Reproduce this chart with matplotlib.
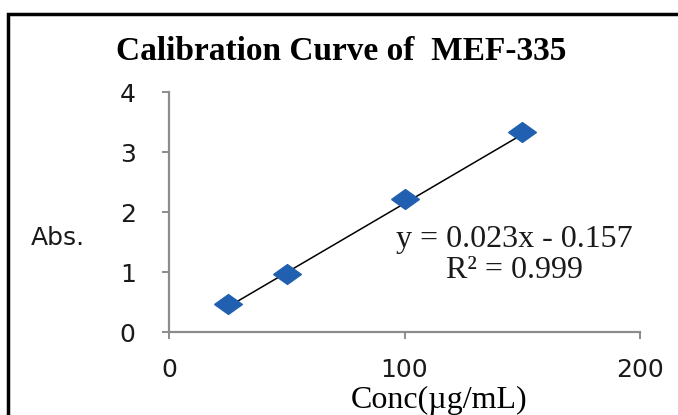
import matplotlib.pyplot as plt
from matplotlib.patches import Rectangle
import numpy as np

# data
conc = [25, 50, 100, 150]
absorb = [0.46, 0.97, 2.21, 3.33]
slope = 0.023
intercept = -0.157
x_ticks = [0, 100, 200]
y_ticks = [0, 1, 2, 3, 4]

W, H = 678, 415

def fx(px):
    return px / W

def fy(py):
    return 1 - py / H

fig = plt.figure(figsize=(6.78, 4.15), dpi=100)
ax = fig.add_axes([fx(169), fy(332), (640-169)/W, (332-92)/H])

# trendline over data range
xs = np.array([conc[0], conc[-1]])
ax.plot(xs, slope*xs + intercept, color='black', lw=1.1, zorder=2)
# slightly flattened diamond like the original
diamond = [(-1.4, 0), (0, 1), (1.4, 0), (0, -1), (-1.4, 0)]
ax.plot(conc, absorb, ls='none', marker=diamond, color='#2160b0',
        ms=20, mec='#2160b0', zorder=3)

ax.set_xlim(0, 200)
ax.set_ylim(0, 4)
ax.set_xticks(x_ticks)
ax.set_yticks(y_ticks)
for s in ['top', 'right']:
    ax.spines[s].set_visible(False)
for s in ['left', 'bottom']:
    ax.spines[s].set_color('#8c8c8c')
    ax.spines[s].set_linewidth(1.6)
ax.tick_params(axis='both', color='#8c8c8c', width=1.4, length=5,
               labelsize=18, labelcolor='#1a1a1a')
ax.tick_params(axis='x', pad=14)
ax.tick_params(axis='y', pad=19)
for lab in ax.get_xticklabels() + ax.get_yticklabels():
    lab.set_family('DejaVu Sans')

fig.text(fx(341), fy(60), 'Calibration Curve of  MEF-335',
         ha='center', va='baseline', family='Liberation Serif',
         fontweight='bold', fontsize=24)
fig.text(fx(58), fy(245), 'Abs.', ha='center', va='baseline',
         family='DejaVu Sans', fontsize=18, color='#1a1a1a')
fig.text(fx(439), fy(408), 'Conc(\u00b5g/mL)', ha='center', va='baseline',
         family='Liberation Serif', fontsize=23)
fig.text(fx(514), fy(247), 'y = 0.023x - 0.157', ha='center',
         va='baseline', family='Liberation Serif', fontsize=23,
         color='#1a1a1a')
fig.text(fx(515), fy(278), 'R\u00b2 = 0.999', ha='center',
         va='baseline', family='Liberation Serif', fontsize=23,
         color='#1a1a1a')

# outer frame, cut by the image edges at right and bottom
fig.patches.append(Rectangle((fx(8), -0.1), 1.2, fy(14) + 0.1,
                             transform=fig.transFigure, fill=False,
                             edgecolor='black', lw=2.5))

fig.savefig('out.png', dpi=100)
